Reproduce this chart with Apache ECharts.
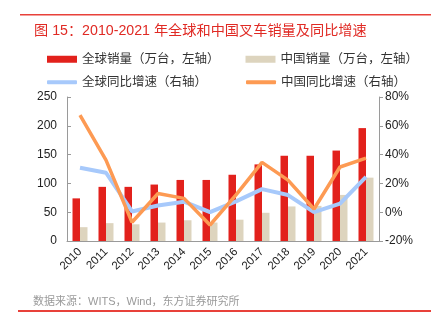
<!DOCTYPE html>
<html><head><meta charset="utf-8">
<script src="https://cdn.jsdelivr.net/npm/echarts@6/dist/echarts.min.js"></script>
<style>html,body{margin:0;padding:0;background:#fff}#c{width:445px;height:322px}</style>
</head><body><div id="c"></div>
<script>
const years = ['2010','2011','2012','2013','2014','2015','2016','2017','2018','2019','2020','2021'];
const globalSales = [74, 94, 94, 98, 106, 106, 115, 133, 148, 148, 157, 196];
const chinaSales = [24, 31, 29, 32, 36, 32, 37, 49, 60, 61, 80, 110];
const globalGrowth = [30.9, 27.4, 0.5, 4.7, 7.3, 0, 7.5, 16, 11.9, 0, 6, 24.6];
const chinaGrowth = [67.4, 36.2, -7, 13, 9.6, -8.9, 12, 34.6, 22.3, 2.2, 31.4, 37.6];
const leftTicks = [0, 50, 100, 150, 200, 250];
const rightTicks = ['-20%', '0%', '20%', '40%', '60%', '80%'];
const names = ['全球销量（万台，左轴）','中国销量（万台，左轴）','全球同比增速（右轴）','中国同比增速（右轴）'];

const chart = echarts.init(document.getElementById('c'), null, {renderer:'canvas'});
const axisGray = '#9a9a9a';
const txt = {color:'#222', fontSize:12, fontFamily:'Liberation Sans, Arial, sans-serif'};
const cjk = '"Liberation Sans", "Noto Sans CJK SC", sans-serif';
chart.setOption({
  animation:false,
  title:[{
    text:'图 15：2010-2021 年全球和中国叉车销量及同比增速',
    left:29, top:19,
    textStyle:{color:'#e02a24', fontSize:14.2, fontWeight:'normal', fontFamily:cjk}
  },{
    text:'数据来源：WITS，Wind，东方证券研究所',
    left:28, top:291,
    textStyle:{color:'#9a9a9a', fontSize:11, fontWeight:'normal', fontFamily:cjk}
  }],
  graphic:[
    {type:'rect', shape:{x:20,y:14,width:411,height:1.5}, style:{fill:'#e8413a'}},
    {type:'rect', shape:{x:18,y:310,width:413,height:2}, style:{fill:'#e8413a'}}
  ],
  legend:[{
    data:[names[0], names[1]], left:42, top:48, itemWidth:30, itemHeight:7, itemGap:26,
    icon:'rect', textStyle:{color:'#333', fontSize:12.5, fontFamily:cjk}
  },{
    data:[names[2], names[3]], left:42, top:71, itemWidth:30, itemHeight:4, itemGap:39,
    icon:'roundRect', textStyle:{color:'#333', fontSize:12.5, fontFamily:cjk}
  }],
  grid:{left:67, right:66, top:97, bottom:81, containLabel:false},
  xAxis:{
    type:'category', data:years,
    axisLine:{lineStyle:{color:axisGray}},
    axisTick:{inside:true, length:4, lineStyle:{color:axisGray}},
    axisLabel:{rotate:45, fontSize:11.5, color:'#222', margin:9, fontFamily:'Liberation Sans, Arial, sans-serif'}
  },
  yAxis:[{
    type:'value', min:0, max:250, interval:50,
    axisLine:{show:true, lineStyle:{color:axisGray}},
    axisTick:{show:true, inside:true, length:4, lineStyle:{color:axisGray}},
    splitLine:{show:false},
    axisLabel:Object.assign({margin:10, formatter:(v)=>String(leftTicks[Math.round(v/50)])}, txt)
  },{
    type:'value', min:-20, max:80, interval:20, position:'right',
    axisLine:{show:true, lineStyle:{color:axisGray}},
    axisTick:{show:true, length:4, lineStyle:{color:axisGray}},
    splitLine:{show:false},
    axisLabel:Object.assign({margin:6, formatter:(v)=>rightTicks[Math.round((v+20)/20)]}, txt)
  }],
  series:[
    {name:names[0], type:'bar', data:globalSales, barWidth:7.5, barGap:'0%', itemStyle:{color:'#e2211c'}},
    {name:names[1], type:'bar', data:chinaSales, barWidth:7.5, barGap:'0%', itemStyle:{color:'#ddd4be'}},
    {name:names[2], type:'line', yAxisIndex:1, data:globalGrowth, showSymbol:false, symbol:'none',
      lineStyle:{color:'#a7c9fb', width:4}, itemStyle:{color:'#a7c9fb'}},
    {name:names[3], type:'line', yAxisIndex:1, data:chinaGrowth, showSymbol:false, symbol:'none',
      lineStyle:{color:'#fd9a53', width:3.5}, itemStyle:{color:'#fd9a53'}}
  ]
});
</script></body></html>
